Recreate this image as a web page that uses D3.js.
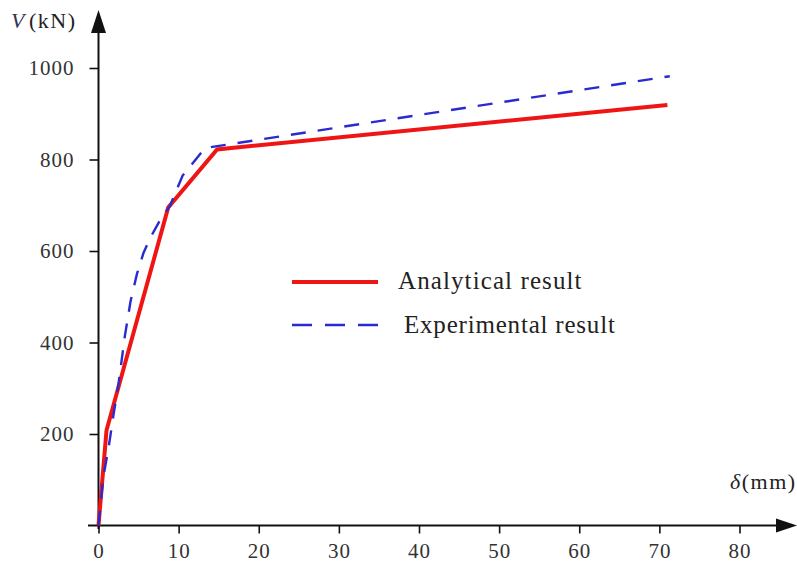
<!DOCTYPE html>
<html><head><meta charset="utf-8">
<script src="https://cdn.jsdelivr.net/npm/d3@7"></script>
<style>body{margin:0;background:#fff}svg{display:block}</style>
</head><body>
<script>
const xTicks = [0,10,20,30,40,50,60,70,80];
const yTicks = [200,400,600,800,1000];
const analyticalX = [0, 1.0, 8.7, 14.8, 71.0];
const analyticalY = [0, 208, 695, 822, 919];
const experimentalX = [0, 0.6, 1.3, 1.9, 2.5, 3.3, 4.0, 4.8, 5.6, 6.5, 7.7, 8.9, 10.5, 13.3, 71.3];
const experimentalY = [0, 105, 175, 245, 310, 415, 490, 550, 595, 630, 668, 698, 765, 825, 982];
const seriesNames = ["Analytical result", "Experimental result"];

const W = 797, H = 565;
const svg = d3.select("body").append("svg").attr("width", W).attr("height", H);
const x = d3.scaleLinear().domain([0, 80]).range([98.5, 739.5]);
const y = d3.scaleLinear().domain([0, 1000]).range([525.5, 68]);
const font = "'Liberation Serif', 'Times New Roman', serif";

// axes
const xAxis = svg.append("g").attr("transform", `translate(0,${y(0)})`)
  .call(d3.axisBottom(x).tickValues(xTicks).tickFormat(d3.format("d")).tickSize(8).tickPadding(8).tickSizeOuter(0));
xAxis.select(".domain").remove();
const yAxis = svg.append("g").attr("transform", `translate(${x(0)},0)`)
  .call(d3.axisLeft(y).tickValues(yTicks).tickFormat(d3.format("d")).tickSize(9).tickPadding(16).tickSizeOuter(0));
yAxis.select(".domain").remove();
[xAxis, yAxis].forEach(g => {
  g.selectAll(".tick line").attr("stroke", "#111").attr("stroke-width", 1.6);
  g.selectAll(".tick text").attr("font-family", font).attr("font-size", 21)
    .attr("letter-spacing", 1).attr("fill", "#333");
});
xAxis.selectAll(".tick text").attr("dy", "0.78em");
yAxis.selectAll(".tick text").attr("dx", 1);

// axis lines with arrows
svg.append("line").attr("x1", 88).attr("x2", 780).attr("y1", y(0)).attr("y2", y(0))
  .attr("stroke", "#111").attr("stroke-width", 2);
svg.append("line").attr("x1", x(0)).attr("x2", x(0)).attr("y1", 529).attr("y2", 30)
  .attr("stroke", "#111").attr("stroke-width", 2);
svg.append("path").attr("d", `M797,${y(0)} L776,${y(0)-7} L776,${y(0)+7} Z`).attr("fill", "#111");
svg.append("path").attr("d", `M${x(0)},10 L${x(0)-7.5},33 L${x(0)+7.5},33 Z`).attr("fill", "#111");

// axis titles
const yt = svg.append("text").attr("x", 11).attr("y", 28).attr("font-family", font).attr("font-size", 22)
  .attr("letter-spacing", 1.5).attr("fill", "#222");
yt.append("tspan").attr("font-style", "italic").attr("fill", "#335").text("V");
yt.append("tspan").attr("dx", 3).text("(kN)");
const xt = svg.append("text").attr("x", 730).attr("y", 489).attr("font-family", font).attr("font-size", 22)
  .attr("letter-spacing", 1.5).attr("fill", "#222");
xt.append("tspan").attr("font-style", "italic").text("δ");
xt.append("tspan").text("(mm)");

// series
const line = d3.line().x(d => x(d[0])).y(d => y(d[1]));
const aData = analyticalX.map((v, i) => [v, analyticalY[i]]);
const eData = experimentalX.map((v, i) => [v, experimentalY[i]]);
svg.append("path").datum(aData).attr("d", line).attr("fill", "none")
  .attr("stroke", "#f01515").attr("stroke-width", 4).attr("stroke-linejoin", "miter");
svg.append("path").datum(eData).attr("d", line).attr("fill", "none")
  .attr("stroke", "#2a2ad0").attr("stroke-width", 2.4).attr("stroke-dasharray", "15,12");

// legend
svg.append("line").attr("x1", 292).attr("x2", 378).attr("y1", 282).attr("y2", 282)
  .attr("stroke", "#f01515").attr("stroke-width", 4);
svg.append("text").attr("x", 398).attr("y", 289).attr("font-family", font).attr("font-size", 25)
  .attr("letter-spacing", 1.1).attr("fill", "#222").text(seriesNames[0]);
svg.append("line").attr("x1", 292).attr("x2", 378).attr("y1", 325).attr("y2", 325)
  .attr("stroke", "#2a2ad0").attr("stroke-width", 2.4).attr("stroke-dasharray", "20,13");
svg.append("text").attr("x", 404).attr("y", 333).attr("font-family", font).attr("font-size", 25)
  .attr("letter-spacing", 0.8).attr("fill", "#222").text(seriesNames[1]);
</script>
</body></html>
